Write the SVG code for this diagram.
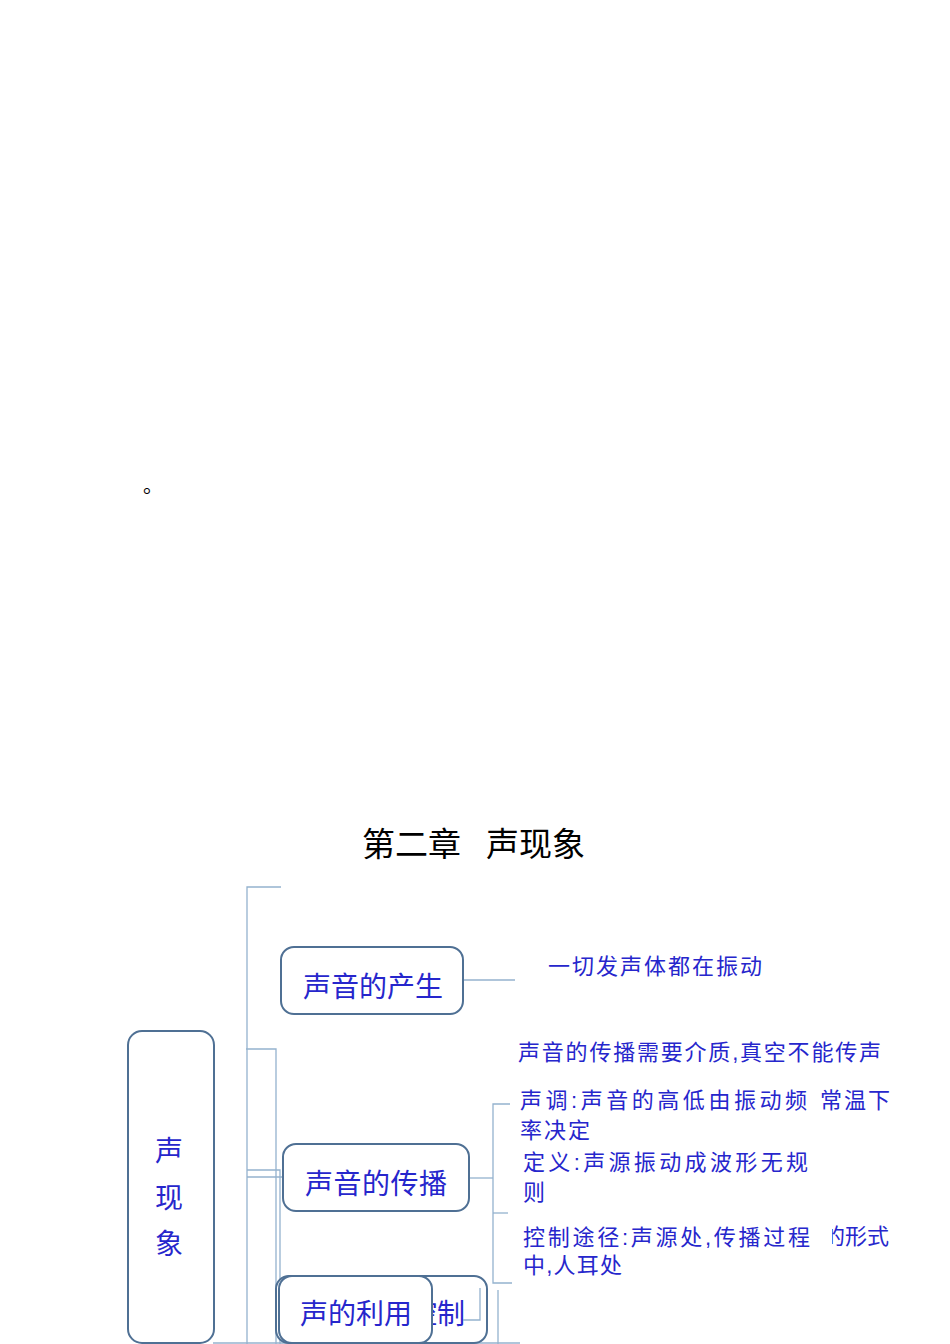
<svg xmlns="http://www.w3.org/2000/svg" width="950" height="1344" viewBox="0 0 950 1344">
<style>
.node{fill:#fff;stroke:#4F7094;stroke-width:2}
.nt{font-family:"Liberation Sans","Noto Sans CJK SC",sans-serif;fill:#2626CC;font-size:28px}
.lt{font-family:"Liberation Sans","Noto Sans CJK SC",sans-serif;fill:#2626CC;font-size:22px}
.conn line,.conn polyline{stroke:#94B2CE;stroke-width:1.3;fill:none}
.title{font-family:"Liberation Serif","Noto Sans CJK SC",serif;fill:#000;font-size:33px}
</style>
<defs>
<clipPath id="clipHalf"><rect x="832" y="1215" width="90" height="40"/></clipPath>
</defs>
<rect width="950" height="1344" fill="#fff"/>
<text x="143" y="493" font-family="'Noto Sans CJK SC',sans-serif" font-size="20" fill="#000">。</text>
<text class="title" y="856"><tspan x="362">第二章</tspan><tspan x="486">声现象</tspan></text>

<g id="connectors" class="conn">
<polyline points="281,887 247,887 247,1344"/>
<polyline points="246,1049 276,1049 276,1344"/>
<polyline points="247,1170 280,1170 280,1344"/>
<line x1="247" y1="1177" x2="283" y2="1177"/>
<line x1="463" y1="980" x2="515" y2="980"/>
<line x1="469" y1="1178" x2="493" y2="1178"/>
<polyline points="510,1104 493,1104 493,1283 512,1283"/>
<line x1="493" y1="1213" x2="508" y2="1213"/>
<line x1="498" y1="1290" x2="498" y2="1344"/>
<line x1="213" y1="1343" x2="520" y2="1343"/>
</g>

<g id="root">
<rect class="node" x="128" y="1031" width="86" height="312" rx="14"/>
<text class="nt" font-size="31" x="155" y="1161">声</text>
<text class="nt" font-size="31" x="155" y="1208">现</text>
<text class="nt" font-size="31" x="155" y="1254">象</text>
</g>

<g id="node-produce">
<rect class="node" x="281" y="947" width="182" height="67" rx="13"/>
<text class="nt" x="303" y="997" textLength="140">声音的产生</text>
</g>
<g id="leaf-vibrate">
<text class="lt" x="548" y="974" textLength="214">一切发声体都在振动</text>
</g>
<g id="leaf-medium">
<text class="lt" x="518" y="1060" textLength="363">声音的传播需要介质,真空不能传声</text>
</g>

<g id="node-spread">
<rect class="node" x="283" y="1144" width="186" height="67" rx="13"/>
<text class="nt" x="305" y="1194" textLength="142">声音的传播</text>
</g>
<g id="leaf-pitch">
<text class="lt" x="520" y="1108" textLength="287">声调:声音的高低由振动频</text>
<text class="lt" x="520" y="1138" textLength="70">率决定</text>
</g>
<g id="leaf-temp">
<text class="lt" x="820" y="1108" textLength="70">常温下</text>
</g>
<g id="leaf-noise-def">
<text class="lt" x="523" y="1170" textLength="285">定义:声源振动成波形无规</text>
<text class="lt" x="523" y="1200">则</text>
</g>
<g id="leaf-control">
<text class="lt" x="523" y="1245" textLength="287">控制途径:声源处,传播过程</text>
<text class="lt" x="523" y="1273" textLength="99">中,人耳处</text>
</g>
<g id="leaf-form">
<text class="lt" x="823" y="1244" clip-path="url(#clipHalf)">的形式</text>
</g>

<g id="node-control">
<rect class="node" x="276" y="1276" width="211" height="67" rx="13"/>
<text class="nt" x="325" y="1324" textLength="140">噪声的控制</text>
<polyline points="463,1320 480,1320 480,1288" fill="none" stroke="#94B2CE" stroke-width="1.3"/>
</g>
<g id="node-use">
<rect class="node" x="279" y="1276" width="153" height="67" rx="13"/>
<text class="nt" x="300" y="1324" textLength="112">声的利用</text>
</g>
</svg>
